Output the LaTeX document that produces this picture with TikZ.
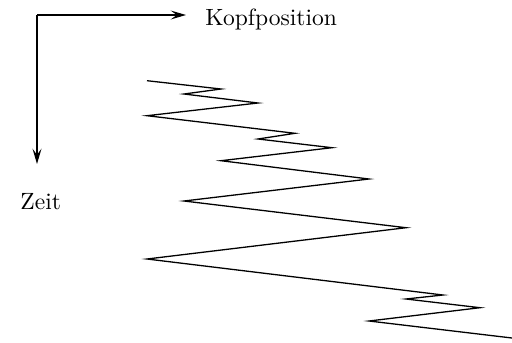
\documentclass[tikz,border=0pt]{standalone}
\usepackage{tikz}
\usetikzlibrary{arrows.meta}

\begin{document}
\begin{tikzpicture}[x=0.425pt, y=-0.425pt, every node/.style={font=\normalsize},
    axis/.style={line width=0.55pt, -{Stealth[length=6.5pt, width=3.8pt, inset=2.6pt]}},
    track/.style={line width=0.55pt, line join=miter}]
    \useasboundingbox (0,0) rectangle (512,342);

    % Axes (head position to the right, time downwards)
    \coordinate (origin) at (37,15);
    \coordinate (kopfend) at (186,15);
    \coordinate (zeitend) at (37,164);
    \draw[axis] (origin) -- (kopfend);
    \draw[axis] (origin) -- (zeitend);

    % Axis labels
    \node[anchor=base west, inner sep=0pt] (kopf) at (205,25) {Kopfposition};
    \node[anchor=base west, inner sep=0pt] (zeit) at (20,209) {Zeit};

    % Head track: column index k (x = 147 + 37k) and time y
    \def\xstep{37}
    \draw[track] (147,80.7)
        \foreach \k/\y in {2/89, 1/94, 3/103, 0/115.7, 4/133.3, 3/139,
                           5/147.7, 2/160.7, 6/179, 1/201, 7/227.7, 0/259,
                           8/295, 7/299, 9/307.7, 6/321} {
            -- (147+\xstep*\k,\y)
        }
        -- (512,338);

\end{tikzpicture}
\end{document}
